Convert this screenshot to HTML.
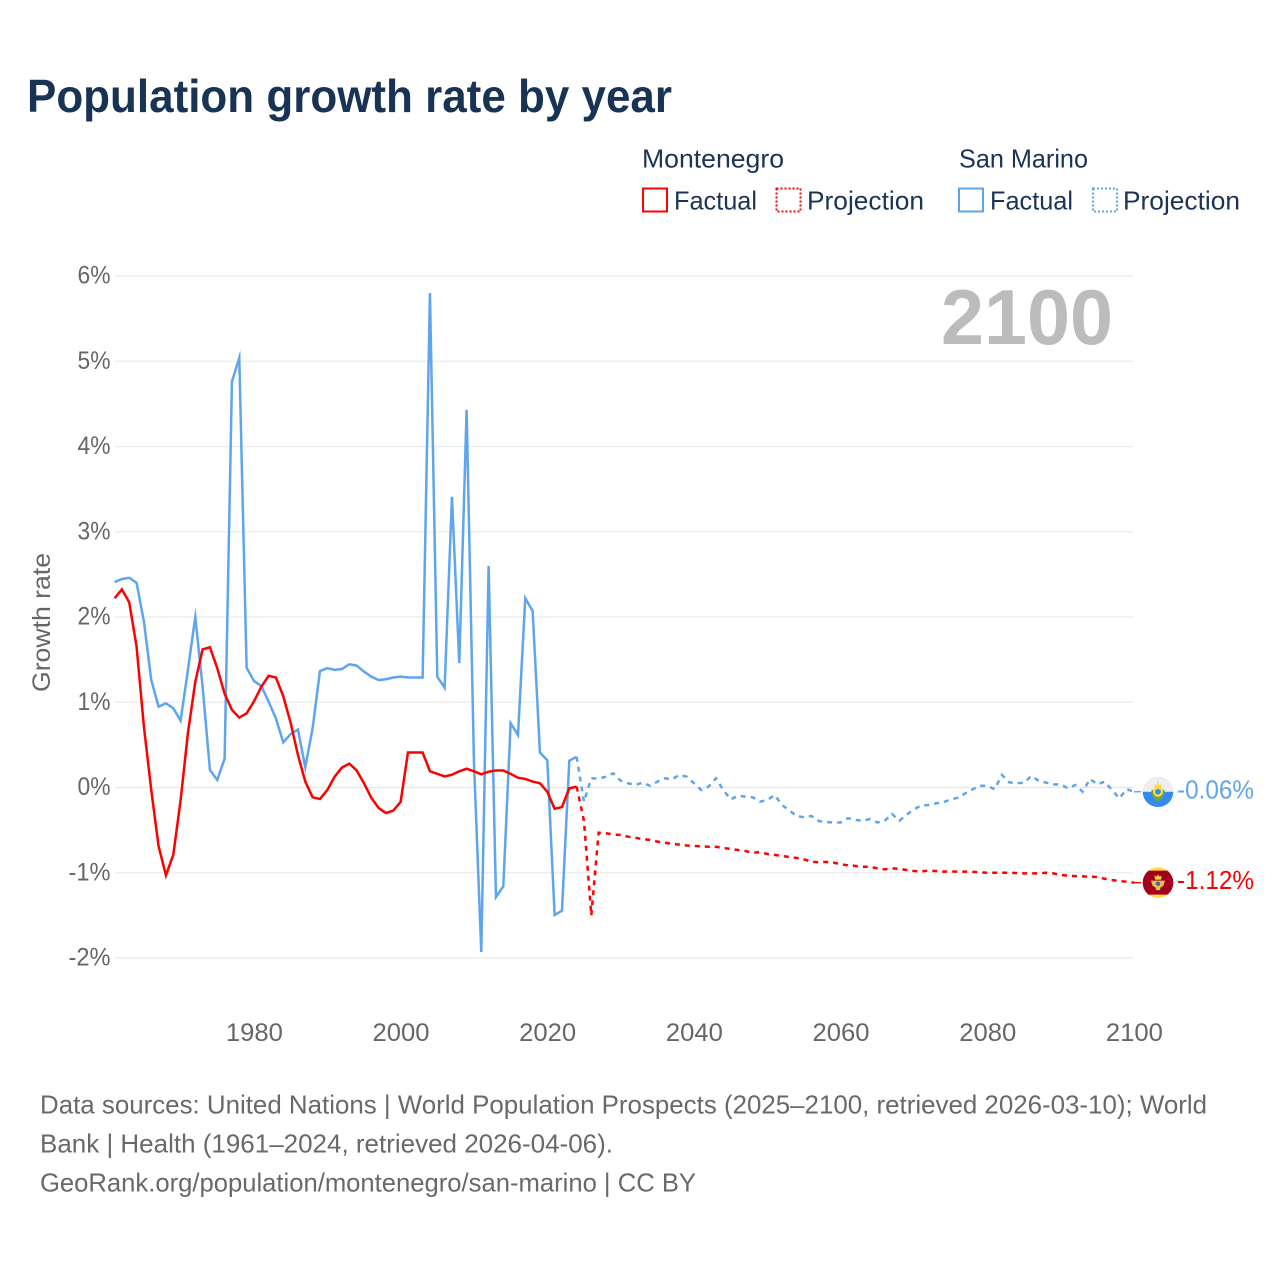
<!DOCTYPE html>
<html lang="en">
<head>
<meta charset="utf-8">
<title>Population growth rate by year</title>
<style>
html,body{margin:0;padding:0;background:#fff;}
svg{display:block;}
text{font-family:"Liberation Sans",sans-serif;}
</style>
</head>
<body>
<svg id="chart" xmlns="http://www.w3.org/2000/svg" width="1280" height="1280" viewBox="0 0 1280 1280">
  <rect x="0" y="0" width="1280" height="1280" fill="#ffffff"/>
  <text x="27" y="112" font-size="46" font-weight="700" fill="#193355" textLength="645" lengthAdjust="spacingAndGlyphs">Population growth rate by year</text>

  <g font-size="26" fill="#1b3355">
    <text x="642" y="167.5" textLength="142" lengthAdjust="spacingAndGlyphs">Montenegro</text>
    <text x="959" y="167.5" textLength="129" lengthAdjust="spacingAndGlyphs">San Marino</text>
    <g>
      <rect x="643" y="188.5" width="24" height="23" fill="none" stroke="#ff0000" stroke-width="2"/>
      <text x="674" y="209.5" textLength="83" lengthAdjust="spacingAndGlyphs">Factual</text>
    </g>
    <g>
      <rect x="776.5" y="188.5" width="24" height="23" fill="none" stroke="#ff0000" stroke-width="2" stroke-dasharray="2 2"/>
      <text x="807" y="209.5" textLength="117" lengthAdjust="spacingAndGlyphs">Projection</text>
    </g>
    <g>
      <rect x="959" y="188.5" width="24" height="23" fill="none" stroke="#5fa5ee" stroke-width="2"/>
      <text x="990" y="209.5" textLength="83" lengthAdjust="spacingAndGlyphs">Factual</text>
    </g>
    <g>
      <rect x="1093" y="188.5" width="24" height="23" fill="none" stroke="#5fa5ee" stroke-width="2" stroke-dasharray="2 2"/>
      <text x="1123" y="209.5" textLength="117" lengthAdjust="spacingAndGlyphs">Projection</text>
    </g>
  </g>

  <g id="grid"></g>
  <g id="yticks"></g>
  <g id="xticks"></g>
  <text transform="translate(50,622.5) rotate(-90)" text-anchor="middle" font-size="25" fill="#666666" textLength="139" lengthAdjust="spacingAndGlyphs">Growth rate</text>
  <text x="941" y="344" font-size="78" font-weight="700" fill="#bcbcbc" textLength="172" lengthAdjust="spacingAndGlyphs">2100</text>

  <g id="series"></g>

  <defs>
    <clipPath id="flag-clip"><circle cx="0" cy="0" r="15.3"/></clipPath>
  </defs>
  <g id="flag-smr" clip-path="url(#flag-clip)">
    <rect x="-16" y="-16" width="32" height="16" fill="#eeeeee"/>
    <rect x="-16" y="0" width="32" height="16" fill="#338af3"/>
    <path d="M-3.5-3.5 L-3.5-7.5 L-1.5-6.5 L0-10.5 L1.5-6.5 L3.5-7.5 L3.5-3.5Z" fill="#ffda44"/>
    <path d="M-6.5-2 C-7 5 -3 8 0 10 C3 8 7 5 6.5-2 L4-2 L4 3 L-4 3 L-4-2Z" fill="#6da544"/>
    <circle cx="0" cy="0" r="5" fill="#ffda44"/>
    <circle cx="0" cy="0" r="2.8" fill="#338af3"/>
  </g>
  <g id="flag-mne" clip-path="url(#flag-clip)">
    <rect x="-16" y="-16" width="32" height="32" fill="#ffda44"/>
    <rect x="-16" y="-12" width="32" height="24" fill="#a2001d"/>
    <path d="M-3-3 L-3.5-7 L-1.5-6 L0-8 L1.5-6 L3.5-7 L3-3Z" fill="#ffda44"/>
    <path d="M-7-2 L7-2 L5.5 3 L2.5 5 L2 7.5 L-2 7.5 L-2.5 5 L-5.5 3Z" fill="#e5c04c"/>
    <circle cx="0" cy="1" r="2.2" fill="#3f6f8f"/>
  </g>

  <g id="end-labels"></g>

  <g font-size="26" fill="#696969">
    <text x="40" y="1113.5" textLength="1167" lengthAdjust="spacingAndGlyphs">Data sources: United Nations | World Population Prospects (2025–2100, retrieved 2026-03-10); World</text>
    <text x="40" y="1152.5" textLength="573" lengthAdjust="spacingAndGlyphs">Bank | Health (1961–2024, retrieved 2026-04-06).</text>
    <text x="40" y="1191.5" textLength="656" lengthAdjust="spacingAndGlyphs">GeoRank.org/population/montenegro/san-marino | CC BY</text>
  </g>
</svg>
<script>
const yTicks = [6, 5, 4, 3, 2, 1, 0, -1, -2];
const xTicks = [1980, 2000, 2020, 2040, 2060, 2080, 2100];
const factualYears = [1961,1962,1963,1964,1965,1966,1967,1968,1969,1970,1971,1972,1973,1974,1975,1976,1977,1978,1979,1980,1981,1982,1983,1984,1985,1986,1987,1988,1989,1990,1991,1992,1993,1994,1995,1996,1997,1998,1999,2000,2001,2002,2003,2004,2005,2006,2007,2008,2009,2010,2011,2012,2013,2014,2015,2016,2017,2018,2019,2020,2021,2022,2023,2024];
const projectionYears = [2024,2025,2026,2027,2028,2029,2030,2031,2032,2033,2034,2035,2036,2037,2038,2039,2040,2041,2042,2043,2044,2045,2046,2047,2048,2049,2050,2051,2052,2053,2054,2055,2056,2057,2058,2059,2060,2061,2062,2063,2064,2065,2066,2067,2068,2069,2070,2071,2072,2073,2074,2075,2076,2077,2078,2079,2080,2081,2082,2083,2084,2085,2086,2087,2088,2089,2090,2091,2092,2093,2094,2095,2096,2097,2098,2099,2100];
const montenegroFactual = [
  2.22,2.325,2.17,1.65,0.71,-0.03,-0.69,-1.03,-0.79,-0.15,
  0.64,1.24,1.62,1.645,1.40,1.10,0.91,0.82,0.87,1.01,
  1.18,1.31,1.29,1.07,0.76,0.38,0.07,-0.115,-0.135,-0.03,
  0.127,0.235,0.28,0.2,0.05,-0.12,-0.24,-0.3,-0.27,-0.17,
  0.41,0.41,0.41,0.19,0.16,0.13,0.15,0.19,0.22,0.19,
  0.155,0.185,0.2,0.2,0.16,0.115,0.1,0.07,0.05,-0.05,
  -0.25,-0.23,-0.01,0.01
];
const sanMarinoFactual = [
  2.41,2.446,2.46,2.40,1.945,1.26,0.948,0.987,0.93,0.784,
  1.38,2.0,1.18,0.205,0.088,0.34,4.76,5.04,1.405,1.25,
  1.19,1.007,0.81,0.53,0.627,0.68,0.237,0.695,1.366,1.40,
  1.38,1.39,1.445,1.43,1.36,1.30,1.26,1.27,1.29,1.30,
  1.29,1.29,1.29,5.8,1.30,1.17,3.41,1.46,4.43,0.3,
  -1.93,2.6,-1.285,-1.16,0.755,0.615,2.22,2.07,0.41,0.32,
  -1.495,-1.445,0.315,0.36
];
const montenegroProjection = [
  0.01,
  -0.39,-1.5,-0.53,-0.537,-0.55,-0.557,
  -0.577,-0.59,-0.605,-0.615,-0.635,-0.647,-0.66,-0.67,-0.68,-0.685,
  -0.69,-0.695,-0.695,-0.71,-0.72,-0.733,-0.745,-0.765,-0.757,-0.78,
  -0.79,-0.803,-0.815,-0.827,-0.843,-0.87,-0.877,-0.873,-0.88,-0.90,
  -0.913,-0.92,-0.93,-0.93,-0.948,-0.96,-0.948,-0.955,-0.968,-0.98,
  -0.983,-0.975,-0.98,-0.987,-0.985,-0.987,-0.987,-0.99,-0.995,-1.0,
  -1.0,-1.0,-1.0,-1.003,-1.007,-1.007,-1.007,-1.0,-1.007,-1.026,
  -1.034,-1.04,-1.043,-1.046,-1.05,-1.07,-1.085,-1.097,-1.105,-1.116
];
const sanMarinoProjection = [
  0.36,
  -0.166,0.108,0.104,0.127,0.166,0.08,
  0.05,0.03,0.057,0.02,0.068,0.108,0.096,0.147,0.127,0.05,
  -0.03,0.01,0.108,-0.03,-0.14,-0.096,-0.107,-0.115,-0.166,-0.147,
  -0.088,-0.205,-0.27,-0.334,-0.35,-0.334,-0.393,-0.405,-0.41,-0.41,
  -0.36,-0.38,-0.39,-0.37,-0.41,-0.39,-0.31,-0.39,-0.32,-0.256,
  -0.21,-0.205,-0.186,-0.174,-0.14,-0.12,-0.068,-0.02,0.02,0.018,
  -0.02,0.147,0.06,0.05,0.057,0.135,0.08,0.057,0.037,0.037,
  -0.01,0.03,-0.05,0.10,0.037,0.068,-0.03,-0.127,-0.02,-0.05
];
const endLabelMontenegro = "-1.12%";
const endLabelSanMarino = "-0.06%";

const NS = "http://www.w3.org/2000/svg";
const RED = "#ff0000";
const BLUE = "#5fa5ee";
function xScale(year) { return 114.6 + (year - 1961) * (1019.4 / 139); }
function yScale(v) { return 787.5 - 85.25 * v; }
function make(tag, attrs, parent) {
  const el = document.createElementNS(NS, tag);
  for (const k in attrs) el.setAttribute(k, attrs[k]);
  parent.appendChild(el);
  return el;
}
const gridG = document.getElementById("grid");
const yTickG = document.getElementById("yticks");
const xTickG = document.getElementById("xticks");
const seriesG = document.getElementById("series");
const labelsG = document.getElementById("end-labels");

yTicks.forEach(function (t) {
  const line = make("line", {x1: 115, x2: 1133, y1: yScale(t), y2: yScale(t), stroke: t === 0 ? "#e6e6e6" : "#ebebeb", "stroke-width": 1.2}, gridG);
  
  
  const label = make("text", {x: 110.5, y: yScale(t) + 7.5, "text-anchor": "end", "font-size": 25, fill: "#666666", textLength: t < 0 ? 42 : 33, lengthAdjust: "spacingAndGlyphs"}, yTickG);
  
  
  label.textContent = t + "%";
});
xTicks.forEach(function (t) {
  const label = make("text", {x: xScale(t) + 0.4, y: 1041, "text-anchor": "middle", "font-size": 25, fill: "#666666", textLength: 57, lengthAdjust: "spacingAndGlyphs"}, xTickG);
  
  
  label.textContent = t;
});

function pathFor(years, values) {
  return values.map(function (v, i) {
    return (i ? "L" : "M") + xScale(years[i]).toFixed(2) + " " + yScale(v).toFixed(2);
  }).join(" ");
}
function drawLine(years, values, color, dashed, name) {
  const p = make("path", {d: pathFor(years, values), fill: "none", stroke: color, "stroke-width": 2.5, "stroke-linejoin": "miter", "stroke-miterlimit": 10}, seriesG);
  if (dashed) p.setAttribute("stroke-dasharray", "5 5");
  
  
}
drawLine(factualYears, sanMarinoFactual, BLUE, false, "san-marino-factual-line");
drawLine(projectionYears, sanMarinoProjection, BLUE, true, "san-marino-projection-line");
drawLine(factualYears, montenegroFactual, RED, false, "montenegro-factual-line");
drawLine(projectionYears, montenegroProjection, RED, true, "montenegro-projection-line");

function drawEnd(values, years, color, text, flagId, name) {
  const last = values[values.length - 1];
  const endX = xScale(years[years.length - 1]);
  const ey = yScale(last);
  const stub = make("line", {x1: endX, x2: 1141, y1: ey, y2: ey, stroke: color, "stroke-width": 1.4}, seriesG);
  
  
  document.getElementById(flagId).setAttribute("transform", "translate(1158," + ey.toFixed(2) + ")");
  const label = make("text", {x: 1177, y: ey + 6.5, "font-size": 25.5, fill: color, textLength: 77, lengthAdjust: "spacingAndGlyphs"}, labelsG);
  
  
  label.textContent = text;
}
drawEnd(sanMarinoProjection, projectionYears, BLUE, endLabelSanMarino, "flag-smr", "san-marino");
drawEnd(montenegroProjection, projectionYears, RED, endLabelMontenegro, "flag-mne", "montenegro");
</script>
</body>
</html>
